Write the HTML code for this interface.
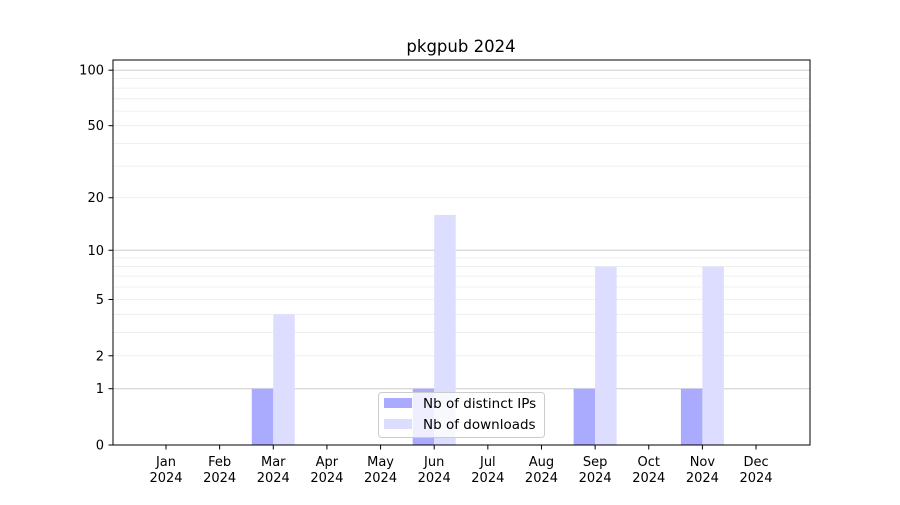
<!DOCTYPE html>
<html><head><meta charset="utf-8"><style>
html,body{margin:0;padding:0;background:#fff;}
text{font-family:"DejaVu Sans","Liberation Sans",sans-serif;fill:#000;}
</style></head><body>
<svg width="900" height="500" viewBox="0 0 900 500" xmlns="http://www.w3.org/2000/svg">
<rect width="900" height="500" fill="#fff"/>
<g id="grid"></g>
<g id="bars"></g>
<rect x="113" y="60" width="697" height="385" fill="none" stroke="#000" stroke-width="1"/>
<g id="ticks"></g>
<text x="461" y="52" font-size="16.5" text-anchor="middle">pkgpub 2024</text>
<g>
<rect x="378.5" y="392.5" width="166" height="45" rx="3" fill="#fff" fill-opacity="0.8" stroke="#ccc" stroke-width="1"/>
<rect x="384" y="398" width="28" height="10" fill="#aaaaff"/>
<text x="423" y="408" font-size="13.5">Nb of distinct IPs</text>
<rect x="384" y="419" width="28" height="10" fill="#ddddff"/>
<text x="423" y="429" font-size="13.5">Nb of downloads</text>
</g>
<script>
(function(){
var ns="http://www.w3.org/2000/svg";
function Y(v){return 445-187*Math.log10(1+v);}
function el(t,a,p,txt){var e=document.createElementNS(ns,t);for(var k in a)e.setAttribute(k,a[k]);if(txt!=null)e.textContent=txt;document.getElementById(p).appendChild(e);}
var minor=[2,3,4,5,6,7,8,9,20,30,40,50,60,70,80,90];
minor.forEach(function(v){var y=Y(v);el("line",{x1:113,x2:810,y1:y,y2:y,stroke:"#ebebeb","stroke-width":0.8},"grid");});
[1,10,100].forEach(function(v){var y=Y(v);el("line",{x1:113,x2:810,y1:y,y2:y,stroke:"#cccccc","stroke-width":1},"grid");});
var months=["Jan","Feb","Mar","Apr","May","Jun","Jul","Aug","Sep","Oct","Nov","Dec"];
var ips=[0,0,1,0,0,1,0,0,1,0,1,0], dl=[0,0,4,0,0,16,0,0,8,0,8,0];
for(var i=0;i<12;i++){
 var c=166+i*53.64;
 if(ips[i]) el("rect",{x:c-21.5,y:Y(ips[i]),width:21.5,height:445-Y(ips[i]),fill:"#aaaaff"},"bars");
 if(dl[i]) el("rect",{x:c,y:Y(dl[i]),width:21.5,height:445-Y(dl[i]),fill:"#ddddff"},"bars");
 el("line",{x1:c,x2:c,y1:445,y2:449.5,stroke:"#000"},"ticks");
 el("text",{x:c,y:466,"font-size":13,"text-anchor":"middle"},"ticks",months[i]);
 el("text",{x:c,y:482,"font-size":13,"text-anchor":"middle"},"ticks","2024");
}
[0,1,2,5,10,20,50,100].forEach(function(v){var y=Y(v);
 el("line",{x1:108.5,x2:113,y1:y,y2:y,stroke:"#000"},"ticks");
 el("text",{x:104,y:y+4.5,"font-size":13,"text-anchor":"end"},"ticks",String(v));});
})();
</script>
</svg>
</body></html>
